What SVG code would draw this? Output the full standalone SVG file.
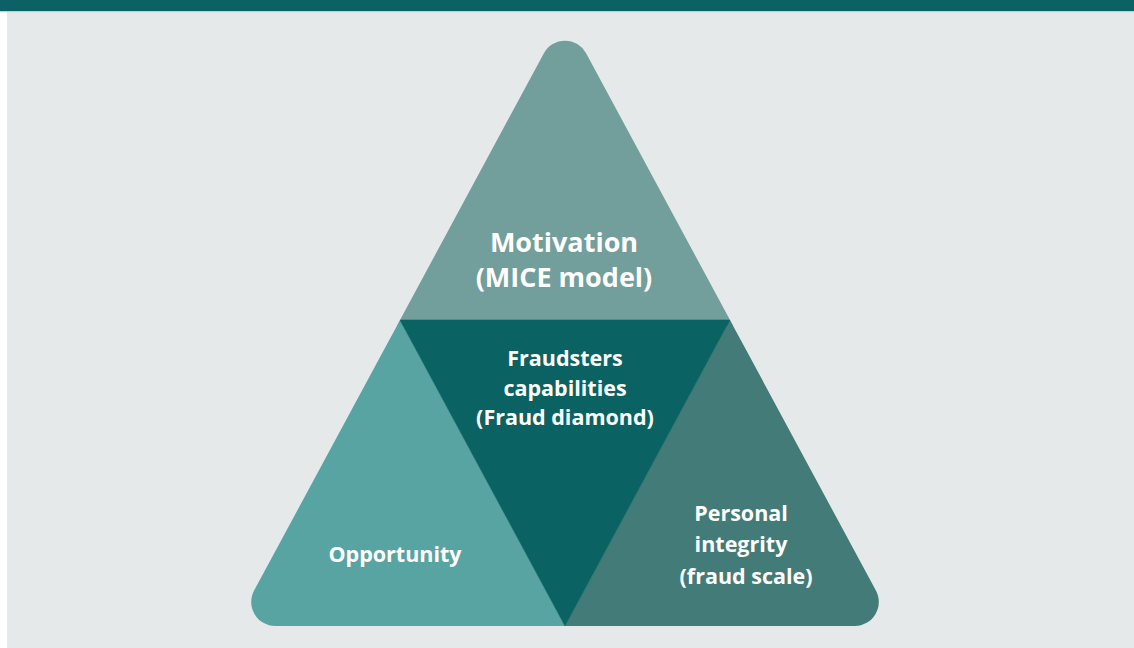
<svg xmlns="http://www.w3.org/2000/svg" width="1134" height="648" viewBox="0 0 1134 648">
  <style>
    .lbl { font-family: "Open Sans", "Liberation Sans", sans-serif; font-weight: 700; fill: #ffffff; text-anchor: middle; }
    .big { font-size: 27px; }
    .mid { font-size: 21.5px; }
  </style>
  <defs>
    <!-- outer triangle with rounded corners -->
    <clipPath id="outline">
      <path d="M 543.9 53.2 A 24 24 0 0 1 586.1 53.2 L 875.9 590.6 A 24 24 0 0 1 854.8 626 L 275.2 626 A 24 24 0 0 1 254.1 590.6 Z"/>
    </clipPath>
  </defs>

  <!-- page -->
  <rect x="0" y="0" width="1134" height="648" fill="#ffffff"/>
  <rect x="7" y="12" width="1127" height="636" fill="#e5e9e9"/>
  <!-- title band -->
  <rect x="0" y="0" width="1134" height="11" fill="#0b6163"/>
  <rect x="0" y="11" width="1134" height="1.2" fill="#b9d3d2"/>

  <g clip-path="url(#outline)">
    <g id="motivation">
      <polygon points="565,0 392,326 738,326" fill="#729e9b"/>
    </g>
    <g id="opportunity">
      <polygon points="400,320 220,640 566,640 565,626" fill="#58a4a2"/>
    </g>
    <g id="integrity">
      <polygon points="730,320 910,640 564,640 565,626" fill="#427b78"/>
    </g>
    <g id="capabilities">
      <polygon points="400,320 730,320 565,626" fill="#0a6262" stroke="#0a6262" stroke-width="0.6"/>
    </g>
  </g>

  <g id="connectors"/>

  <g id="labels">
    <text class="lbl big" x="564" y="252">Motivation</text>
    <text class="lbl big" x="564" y="287">(MICE model)</text>
    <text class="lbl mid" x="565" y="366">Fraudsters</text>
    <text class="lbl mid" x="565" y="396">capabilities</text>
    <text class="lbl mid" x="565" y="425">(Fraud diamond)</text>
    <text class="lbl mid" x="395" y="562">Opportunity</text>
    <text class="lbl mid" x="741" y="521">Personal</text>
    <text class="lbl mid" x="741" y="552">integrity</text>
    <text class="lbl mid" x="746" y="584">(fraud scale)</text>
  </g>
</svg>
